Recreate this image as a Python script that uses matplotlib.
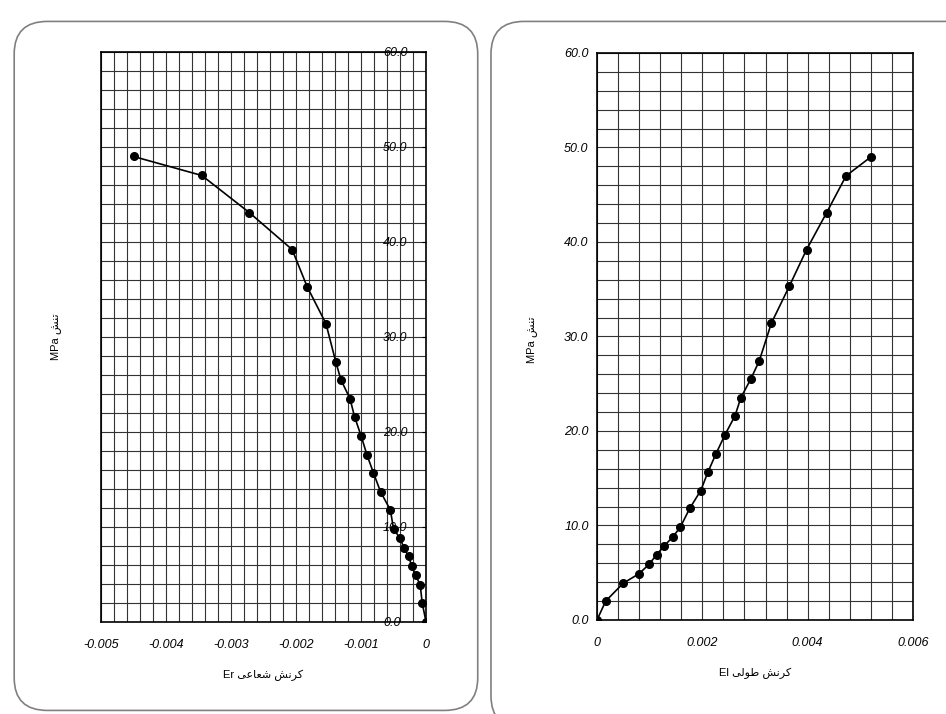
import matplotlib
matplotlib.use("Agg")
import matplotlib.pyplot as plt
from matplotlib.ticker import MultipleLocator, FuncFormatter
from matplotlib.patches import FancyBboxPatch

# stress values (MPa), same load steps for both gauges
stress = [0, 2.0, 3.9, 4.9, 5.9, 6.9, 7.8, 8.8, 9.8, 11.8, 13.7, 15.7,
          17.6, 19.6, 21.6, 23.5, 25.5, 27.4, 31.4, 35.3, 39.2, 43.1, 47.0, 49.0]

# radial strain Er (left chart)
strain_r = [0, -0.00006, -0.00009, -0.00016, -0.00022, -0.00027, -0.00034, -0.00040,
            -0.00050, -0.00055, -0.00070, -0.00081, -0.00091, -0.00100, -0.00110,
            -0.00117, -0.00131, -0.00139, -0.00154, -0.00183, -0.00206, -0.00272,
            -0.00345, -0.00450]

# longitudinal strain El (right chart)
strain_l = [0, 0.000165, 0.00050, 0.00080, 0.00099, 0.00113, 0.00127, 0.00144,
            0.00158, 0.00176, 0.00197, 0.00211, 0.00226, 0.00243, 0.00262, 0.00273,
            0.00292, 0.00308, 0.00331, 0.00365, 0.00398, 0.00436, 0.00473, 0.00520]

# Persian labels, pre-shaped (presentation forms) and in visual order
kornesh = "\uFEB6\uFEE7\uFEAE\uFB90"          # کرنش
shoaei = "\uFBFD\uFECB\uFE8E\uFECC\uFEB7"     # شعاعی
tooli = "\uFBFD\uFEDF\uFEEE\uFEC3"            # طولی
tanesh = "\uFEB6\uFEE8\uFE97"                 # تنش

xlabel_r = "Er " + shoaei + " " + kornesh
xlabel_l = "El " + tooli + " " + kornesh
ylabel = "MPa " + tanesh

plt.rcParams['font.family'] = ['Liberation Sans', 'DejaVu Sans']
plt.rcParams['font.style'] = 'italic'

fig = plt.figure(figsize=(9.46, 7.14), dpi=100)

# rounded panel frames
for x0, y0, w, h in [(0.015, 0.005, 0.490, 0.965), (0.519, -0.02, 0.55, 0.99)]:
    fig.add_artist(FancyBboxPatch((x0, y0), w, h, boxstyle="round,pad=0,rounding_size=0.035",
                                  transform=fig.transFigure, fill=False,
                                  edgecolor='#808080', linewidth=1.2, mutation_aspect=1.3))


def style_axes(ax):
    ax.yaxis.set_major_locator(MultipleLocator(10))
    ax.yaxis.set_minor_locator(MultipleLocator(2))
    ax.set_ylim(0, 60)
    ax.grid(which='both', color='#333333', linewidth=0.8)
    ax.set_axisbelow(True)
    for s in ax.spines.values():
        s.set_linewidth(1.2)
    ax.yaxis.set_major_formatter(FuncFormatter(lambda v, p: f"{v:.1f}"))
    ax.tick_params(which='minor', length=0)


# left chart: radial strain
ax1 = fig.add_axes([0.1068, 0.1289, 0.3436, 0.7983])
ax1.plot(strain_r, stress, color='black', linewidth=1.2, marker='o', markersize=5.5)
ax1.set_xlim(-0.005, 0)
ax1.xaxis.set_major_locator(MultipleLocator(0.001))
ax1.xaxis.set_minor_locator(MultipleLocator(0.0002))
ax1.xaxis.set_major_formatter(FuncFormatter(lambda v, p: "0" if abs(v) < 1e-9 else f"{v:.3f}"))
ax1.yaxis.tick_right()
ax1.tick_params(axis='y', which='major', direction='in', length=3, pad=-31, labelsize=9)
ax1.tick_params(axis='x', which='major', length=0, pad=12, labelsize=9)
style_axes(ax1)
ax1.set_xlabel(xlabel_r, fontsize=8, labelpad=14, fontstyle='normal')
fig.text(0.059, 0.528, ylabel, rotation=90, fontsize=8, ha='center', va='center',
         fontstyle='normal')

# right chart: longitudinal strain
ax2 = fig.add_axes([0.6311, 0.1317, 0.3340, 0.7941])
ax2.plot(strain_l, stress, color='black', linewidth=1.2, marker='o', markersize=5.5)
ax2.set_xlim(0, 0.006)
ax2.xaxis.set_major_locator(MultipleLocator(0.002))
ax2.xaxis.set_minor_locator(MultipleLocator(0.0004))
ax2.xaxis.set_major_formatter(FuncFormatter(lambda v, p: "0" if abs(v) < 1e-9 else f"{v:.3f}"))
ax2.tick_params(axis='y', which='major', length=0, pad=6, labelsize=9)
ax2.tick_params(axis='x', which='major', length=0, pad=12, labelsize=9)
style_axes(ax2)
ax2.set_xlabel(xlabel_l, fontsize=8, labelpad=14, fontstyle='normal')
fig.text(0.562, 0.524, ylabel, rotation=90, fontsize=8, ha='center', va='center',
         fontstyle='normal')

fig.savefig("out.png", dpi=100)
